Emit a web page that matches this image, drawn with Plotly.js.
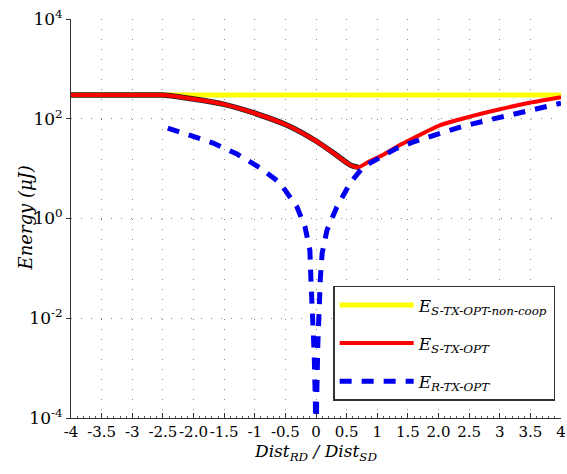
<!DOCTYPE html>
<html>
<head>
<meta charset="utf-8">
<script src="https://cdn.plot.ly/plotly-3.0.1.min.js"></script>
<style>html,body{margin:0;padding:0;background:#fff}#chart{width:567px;height:474px}</style>
</head>
<body>
<div id="chart"></div>
<script>
// Data
const nonCoopX = [-4, -3, -2, -1, 0, 1, 2, 3, 4];
const nonCoopY = [300, 300, 300, 300, 300, 300, 300, 300, 300];

const sOptX = [-4, -3.5, -3, -2.5, -2.0, -1.5, -1.0, -0.47, 0.02, 0.3, 0.56, 0.69, 0.85, 1.09, 1.37, 1.53, 2.02, 2.51, 3.0, 3.49, 4.0];
const sOptY = [300, 300, 300, 298, 248, 194, 129, 74, 34.6, 20, 11.8, 10.6, 13.5, 18.7, 29.7, 37.5, 74, 110, 155, 209, 270];

const rOptX = [-2.42, -2.06, -1.68, -1.29, -0.91, -0.59, -0.31, -0.18, -0.1, -0.08, -0.05, -0.03, -0.01, 0, 0.01, 0.03, 0.05, 0.07, 0.1, 0.18, 0.34, 0.56, 0.77, 1.04, 1.3, 1.58, 1.99, 2.4, 2.81, 3.22, 3.62, 4.0];
const rOptY = [65, 47, 32.6, 19.6, 10.3, 5.2, 1.7, 0.68, 0.23, 0.05, 0.01, 0.002, 0.0002, 0.000001, 0.0002, 0.003, 0.02, 0.06, 0.2, 0.59, 1.7, 5.2, 10.8, 17, 25, 34, 49, 71, 94, 124, 163, 205];

const xTickVals = [-4, -3.5, -3, -2.5, -2, -1.5, -1, -0.5, 0, 0.5, 1, 1.5, 2, 2.5, 3, 3.5, 4];
const xTickText = ['-4', '-3.5', '-3', '-2.5', '-2.0', '-1.5', '-1', '-0.5', '0', '0.5', '1', '1.5', '2.0', '2.5', '3', '3.5', '4'];
const yTickVals = [1e-4, 1e-2, 1, 1e2, 1e4];
const yTickText = ['10<sup>-4</sup>', '10<sup>-2</sup>', '10<sup>0</sup>', '10<sup>2</sup>', '10<sup>4</sup>'];

const labels = [
  '<i>E</i><sub><i>S-TX-OPT-non-coop</i></sub>',
  '<i>E</i><sub><i>S-TX-OPT</i></sub>',
  '<i>E</i><sub><i>R-TX-OPT</i></sub>'
];
const yTitle = '<i>Energy (μJ)</i>';
const xTitle = '<i>Dist</i><sub><i>RD</i></sub><i> / Dist</i><sub><i>SD</i></sub>';

const serif = 'DejaVu Serif';

const outlineN = sOptX.filter(v => v <= 0.69).length;

const traces = [
  {x: nonCoopX, y: nonCoopY, mode: 'lines', name: labels[0], legendgroup: 'a',
   line: {color: '#ffff00', width: 5}},
  {x: sOptX.slice(0, outlineN), y: sOptY.slice(0, outlineN), mode: 'lines', showlegend: false,
   hoverinfo: 'skip', line: {color: '#222', width: 5.5, shape: 'spline', smoothing: 0.6}},
  {x: sOptX, y: sOptY, mode: 'lines', name: labels[1], legendgroup: 'b',
   line: {color: '#ff0000', width: 4, shape: 'spline', smoothing: 0.6}},
  {x: rOptX, y: rOptY, mode: 'lines', name: labels[2], legendgroup: 'c',
   line: {color: '#0000ee', width: 5, dash: '12px,10px'}}
];

const layout = {
  width: 567, height: 474,
  margin: {l: 71, r: 6, t: 19, b: 56, autoexpand: false},
  paper_bgcolor: '#fff', plot_bgcolor: '#fff',
  font: {family: serif, color: '#000', size: 15},
  showlegend: true,
  legend: {
    x: 0.535, y: 0.331, xanchor: 'left', yanchor: 'top',
    bgcolor: '#fff', bordercolor: '#333', borderwidth: 1.5,
    font: {family: serif, size: 17, color: '#000'},
    itemwidth: 74, tracegroupgap: 13
  },
  xaxis: {
    range: [-4, 4], tickmode: 'array', tickvals: xTickVals, ticktext: xTickText,
    showline: true, linecolor: '#333', linewidth: 1,
    ticks: 'inside', ticklen: 5, tickcolor: '#333', tickangle: 0,
    minor: {dtick: 0.1, ticks: 'inside', ticklen: 2, tickcolor: '#555', showgrid: false},
    showgrid: true, gridcolor: '#888', gridwidth: 1, griddash: '1px,9px',
    zeroline: false,
    tickfont: {family: serif, size: 15, color: '#000'},
    title: {text: xTitle, font: {family: serif, size: 17, color: '#000'}, standoff: 2}
  },
  yaxis: {
    type: 'log', range: [-4, 4], tickmode: 'array', tickvals: yTickVals, ticktext: yTickText,
    showline: true, linecolor: '#333', linewidth: 1,
    ticks: 'outside', ticklen: 4, tickcolor: '#333',
    showgrid: true, gridcolor: '#888', gridwidth: 1, griddash: '1px,9px',
    zeroline: false,
    tickfont: {family: serif, size: 17, color: '#000'}
  },
  annotations: [{
    text: yTitle, xref: 'paper', yref: 'paper', x: 0, y: 0.5,
    xanchor: 'center', yanchor: 'middle', xshift: -46, textangle: -90,
    showarrow: false, font: {family: serif, size: 18, color: '#000'}
  }]
};

Plotly.newPlot('chart', traces, layout, {displayModeBar: false});
</script>
</body>
</html>
